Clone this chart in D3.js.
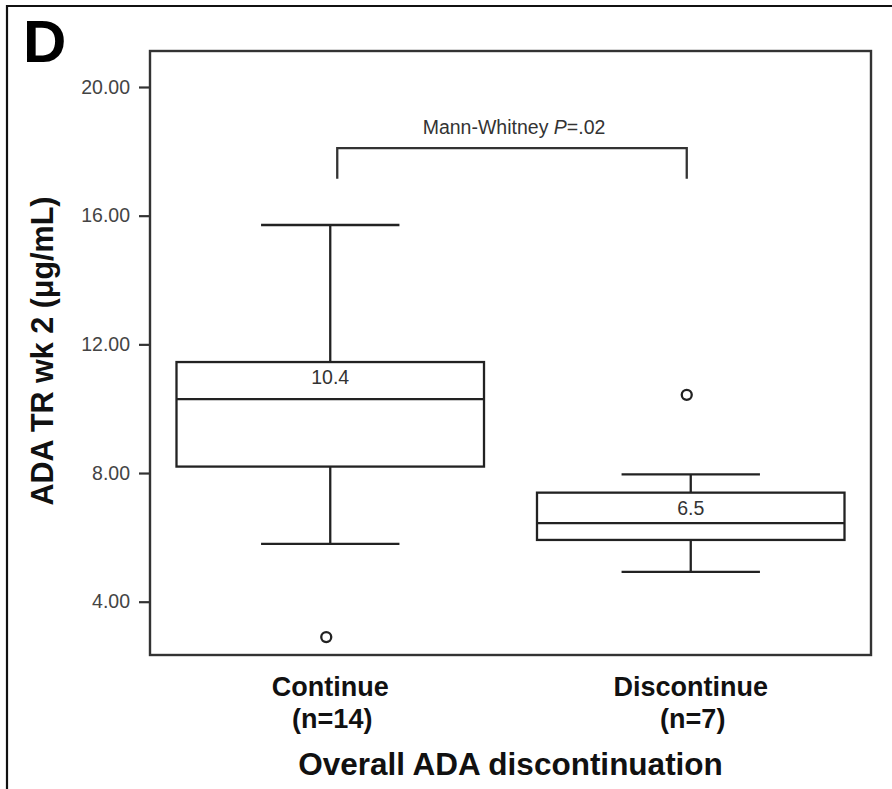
<!DOCTYPE html>
<html>
<head>
<meta charset="utf-8">
<script src="https://cdn.jsdelivr.net/npm/d3@7"></script>
<style>
  body { margin: 0; background: #fff; }
  svg { display: block; font-family: "Liberation Sans", Arial, sans-serif; }
</style>
</head>
<body>
<div id="chart"></div>
<script>
// groups and box stats
const groups = ["Continue", "Discontinue"];
const groupN = ["(n=14)", "(n=7)"];
const whiskerLow = [5.8, 4.93];
const q1 = [8.2, 5.92];
const median = [10.3, 6.44];
const q3 = [11.45, 7.39];
const whiskerHigh = [15.71, 7.96];
const outliers = [[2.9], [10.43]];
const medianLabels = ["10.4", "6.5"];
const yTicks = [4, 8, 12, 16, 20];

const width = 892, height = 789;
const plot = { left: 150, top: 51, right: 871, bottom: 655 };

const svg = d3.select("#chart").append("svg")
    .attr("width", width)
    .attr("height", height);

// outer panel frame (top + left only visible)
svg.append("path")
    .attr("d", `M7,${height} V6 H${width}`)
    .attr("fill", "none")
    .attr("stroke", "#111")
    .attr("stroke-width", 2.2);

// panel letter
svg.append("text")
    .attr("x", 23)
    .attr("y", 62)
    .style("font-weight", "bold")
    .style("font-size", "60px")
    .attr("fill", "#000")
    .text("D");

// scales
const y = d3.scaleLinear()
    .domain([4, 20])
    .range([601.7, 87]);

const x = d3.scalePoint()
    .domain(groups)
    .range([plot.left, plot.right])
    .padding(0.5);

const boxW = x.step() * 0.853;
const capW = boxW * 0.45;

// plot frame
svg.append("rect")
    .attr("x", plot.left)
    .attr("y", plot.top)
    .attr("width", plot.right - plot.left)
    .attr("height", plot.bottom - plot.top)
    .attr("fill", "none")
    .attr("stroke", "#333")
    .attr("stroke-width", 2.4);

// y axis ticks
const yAxis = svg.append("g")
    .attr("transform", `translate(${plot.left},0)`)
    .call(d3.axisLeft(y).tickValues(yTicks).tickFormat(d3.format(".2f")).tickSize(11).tickPadding(9));
yAxis.select(".domain").remove();
yAxis.selectAll(".tick line").attr("stroke", "#333").attr("stroke-width", 2.2);
yAxis.selectAll(".tick text")
    .attr("fill", "#444")
    .style("font-family", "'Liberation Sans', Arial, sans-serif")
    .style("font-size", "19.5px");

// boxes
const boxes = groups.map((g, i) => ({
    g, i, lo: whiskerLow[i], q1: q1[i], med: median[i], q3: q3[i], hi: whiskerHigh[i]
}));

const bx = svg.append("g")
    .attr("stroke", "#222")
    .attr("stroke-width", 2.3)
    .attr("fill", "none");

boxes.forEach(d => {
    const cx = x(d.g);
    // whisker stems
    bx.append("line").attr("x1", cx).attr("x2", cx).attr("y1", y(d.hi)).attr("y2", y(d.q3));
    bx.append("line").attr("x1", cx).attr("x2", cx).attr("y1", y(d.q1)).attr("y2", y(d.lo));
    // caps
    bx.append("line").attr("x1", cx - capW / 2).attr("x2", cx + capW / 2).attr("y1", y(d.hi)).attr("y2", y(d.hi));
    bx.append("line").attr("x1", cx - capW / 2).attr("x2", cx + capW / 2).attr("y1", y(d.lo)).attr("y2", y(d.lo));
    // box
    bx.append("rect")
        .attr("x", cx - boxW / 2)
        .attr("y", y(d.q3))
        .attr("width", boxW)
        .attr("height", y(d.q1) - y(d.q3))
        .attr("fill", "#fff");
    // median
    bx.append("line").attr("x1", cx - boxW / 2).attr("x2", cx + boxW / 2).attr("y1", y(d.med)).attr("y2", y(d.med));
});

// median labels
svg.selectAll(".med-label")
    .data(boxes)
    .join("text")
    .attr("class", "med-label")
    .attr("x", d => x(d.g))
    .attr("y", d => y(d.q3) + 22)
    .attr("text-anchor", "middle")
    .attr("fill", "#333")
    .style("font-size", "19.5px")
    .text(d => medianLabels[d.i]);

// outliers
const outData = groups.flatMap((g, i) => outliers[i].map(v => ({ g, v })));
svg.selectAll(".outlier")
    .data(outData)
    .join("circle")
    .attr("class", "outlier")
    .attr("cx", d => x(d.g) - 4)
    .attr("cy", d => y(d.v))
    .attr("r", 5)
    .attr("fill", "#fff")
    .attr("stroke", "#222")
    .attr("stroke-width", 2.3);

// significance bracket
const bracketTop = 18.1, bracketBottom = 17.15;
const bxl = x(groups[0]) + 7, bxr = x(groups[1]) - 4;
svg.append("path")
    .attr("d", `M${bxl},${y(bracketBottom)} V${y(bracketTop)} H${bxr} V${y(bracketBottom)}`)
    .attr("fill", "none")
    .attr("stroke", "#333")
    .attr("stroke-width", 2.3);

const sig = svg.append("text")
    .attr("x", (bxl + bxr) / 2 + 2)
    .attr("y", 134)
    .attr("text-anchor", "middle")
    .attr("fill", "#333")
    .style("font-size", "19.5px");
sig.append("tspan").text("Mann-Whitney ");
sig.append("tspan").style("font-style", "italic").text("P");
sig.append("tspan").text("=.02");

// category labels
const catLab = svg.selectAll(".cat")
    .data(groups)
    .join("text")
    .attr("class", "cat")
    .attr("text-anchor", "middle")
    .attr("fill", "#111")
    .style("font-weight", "bold")
    .style("font-size", "27px");
catLab.append("tspan")
    .attr("x", d => x(d))
    .attr("y", 696)
    .text(d => d);
catLab.append("tspan")
    .attr("x", d => x(d) + 2)
    .attr("y", 728)
    .text((d, i) => groupN[i]);

// axis titles
svg.append("text")
    .attr("x", (plot.left + plot.right) / 2)
    .attr("y", 775)
    .attr("text-anchor", "middle")
    .attr("fill", "#111")
    .style("font-weight", "bold")
    .style("font-size", "31.5px")
    .text("Overall ADA discontinuation");

svg.append("text")
    .attr("transform", `translate(53,${(195 + 507) / 2}) rotate(-90)`)
    .attr("text-anchor", "middle")
    .attr("fill", "#111")
    .style("font-weight", "bold")
    .style("font-size", "30.5px")
    .text("ADA TR wk 2 (\u03BCg/mL)");
</script>
</body>
</html>
